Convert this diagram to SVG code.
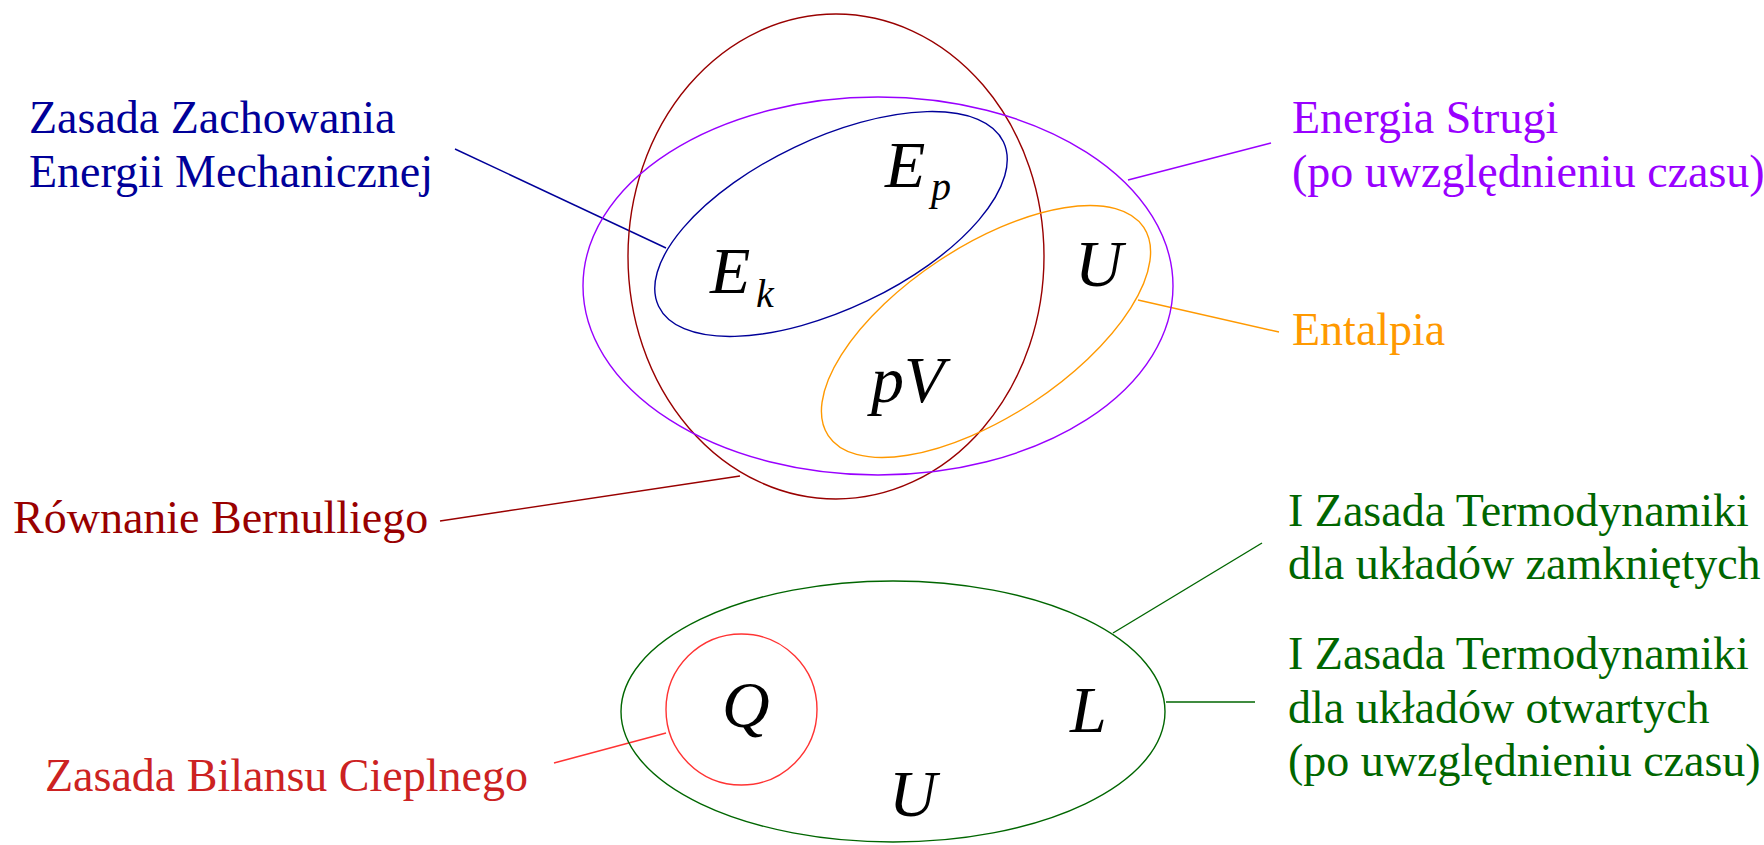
<svg xmlns="http://www.w3.org/2000/svg" width="1764" height="845" viewBox="0 0 1764 845">
<style>
.lbl{font-family:"Liberation Serif","Times New Roman",serif;font-size:46px}
.m{font-family:"Liberation Serif","Times New Roman",serif;font-style:italic;font-size:66px;fill:#000}
.sub{font-size:40px}
.e{fill:none;stroke-width:1.4}
.c{fill:none;stroke-width:1.4}
</style>
<rect width="1764" height="845" fill="#fff"/>
<g id="connectors">
<line class="c" x1="455" y1="149" x2="666" y2="248" stroke="#000099"/>
<line class="c" x1="1128" y1="180" x2="1271" y2="143" stroke="#9900FF"/>
<line class="c" x1="1138" y1="300" x2="1279" y2="332" stroke="#FF9900"/>
<line class="c" x1="440" y1="521" x2="740" y2="476" stroke="#990000"/>
<line class="c" x1="554" y1="763" x2="666" y2="733" stroke="#FF3333"/>
<line class="c" x1="1113" y1="633" x2="1262" y2="543" stroke="#006600"/>
<line class="c" x1="1166" y1="702" x2="1255" y2="702" stroke="#006600"/>
</g>
<g id="bernoulli">
<ellipse class="e" cx="836" cy="256.5" rx="208" ry="242.5" stroke="#990000"/>
<text class="lbl" x="13" y="533" fill="#990000">Równanie Bernulliego</text>
</g>
<g id="energia-strugi">
<ellipse class="e" cx="878" cy="286" rx="295" ry="189" stroke="#9900FF"/>
<text class="lbl" x="1292" y="133" fill="#9900FF">Energia Strugi</text>
<text class="lbl" x="1292" y="187" fill="#9900FF">(po uwzględnieniu czasu)</text>
</g>
<g id="zasada-zachowania">
<ellipse class="e" cx="831" cy="224" rx="191" ry="85" transform="rotate(-25.5 831 224)" stroke="#000099"/>
<text class="lbl" x="29" y="133" fill="#000099">Zasada Zachowania</text>
<text class="lbl" x="29" y="187" fill="#000099">Energii Mechanicznej</text>
</g>
<g id="entalpia">
<ellipse class="e" cx="986" cy="331.5" rx="189" ry="85" transform="rotate(-33.4 986 331.5)" stroke="#FF9900"/>
<text class="lbl" x="1292" y="345" fill="#FF9900">Entalpia</text>
</g>
<g id="termodynamika">
<ellipse class="e" cx="893" cy="711.5" rx="272" ry="130.5" stroke="#006600"/>
<text class="lbl" x="1288" y="526" fill="#006600">I Zasada Termodynamiki</text>
<text class="lbl" x="1288" y="579" fill="#006600">dla układów zamkniętych</text>
<text class="lbl" x="1288" y="669" fill="#006600">I Zasada Termodynamiki</text>
<text class="lbl" x="1288" y="723" fill="#006600">dla układów otwartych</text>
<text class="lbl" x="1288" y="776" fill="#006600">(po uwzględnieniu czasu)</text>
</g>
<g id="bilans-cieplny">
<circle class="e" cx="741.5" cy="709.5" r="75.5" stroke="#FF3333"/>
<text class="lbl" x="45" y="791" fill="#CC2222">Zasada Bilansu Cieplnego</text>
</g>
<g id="symbols">
<text class="m" x="710" y="293">E</text>
<text class="m sub" x="756" y="307">k</text>
<text class="m" x="885" y="187">E</text>
<text class="m sub" x="931" y="200">p</text>
<text class="m" x="1075" y="286">U</text>
<text class="m" x="871" y="402">pV</text>
<text class="m" x="722" y="727">Q</text>
<text class="m" x="1070" y="732">L</text>
<text class="m" x="889" y="816">U</text>
</g>
</svg>
